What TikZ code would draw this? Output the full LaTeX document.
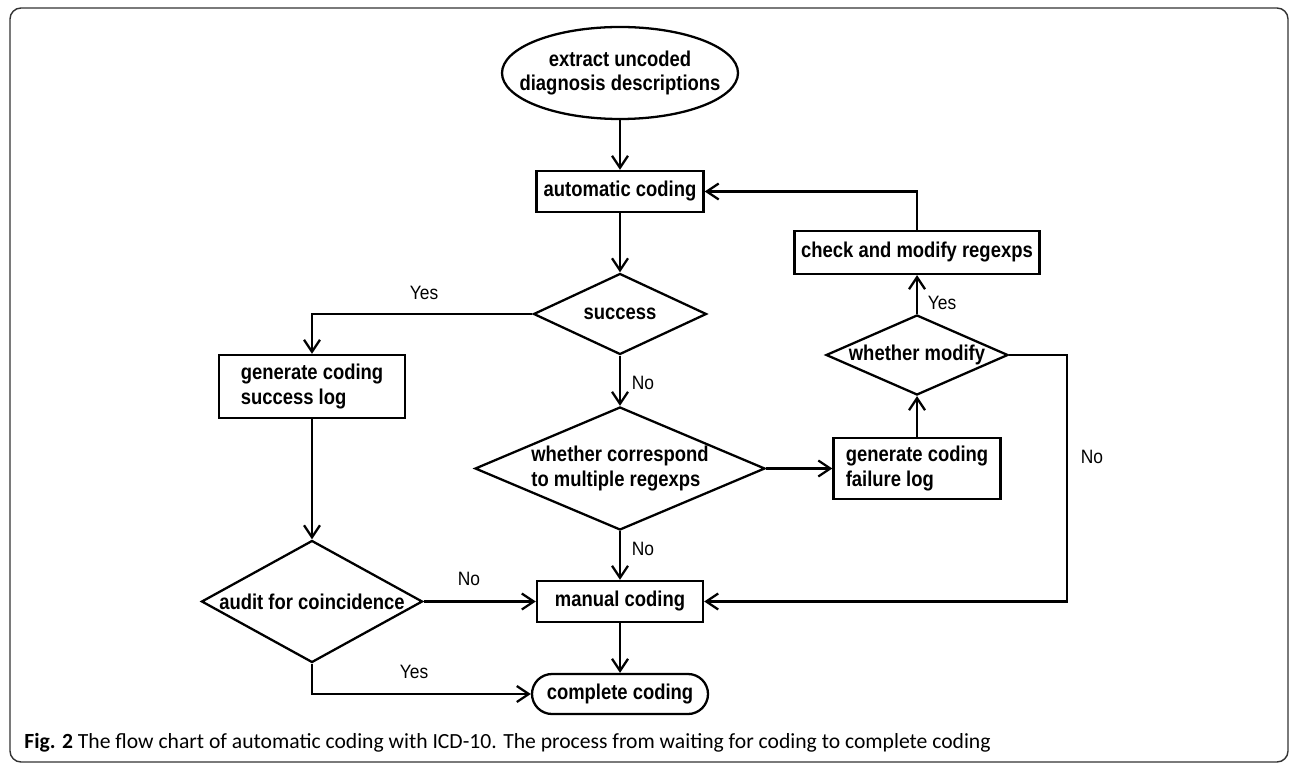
\documentclass[tikz,border=0pt]{standalone}
\usepackage{fontspec}
\setmainfont{Liberation Sans}
\newfontfamily\boxfont{Liberation Sans}[FakeStretch=0.86]
\newfontfamily\labelfont{Liberation Sans}[FakeStretch=0.9]
\newfontfamily\capfont{Carlito}
\usetikzlibrary{shapes.geometric,arrows.meta}

\begin{document}
\begin{tikzpicture}
		\tikzstyle{every node}=[font=\boxfont\fontsize{12.2}{14.2}\selectfont\bfseries]
		\tikzstyle{box}=[draw, rectangle, line width=1.3pt, inner sep=0pt]
		\tikzstyle{choice}=[draw, diamond, line width=1.3pt, inner sep=0pt]
		\tikzstyle{flow}=[line width=1.3pt, -{Straight Barb[length=2.4mm,width=3.2mm]}]
		\tikzstyle{answer}=[font=\labelfont\fontsize{11}{13}\selectfont\mdseries, inner sep=0pt]
		\useasboundingbox (0,0) rectangle (25.84,-15.28);
		\draw [ color={rgb,255:red,50; green,50; blue,50} , line width=0.8pt, rounded corners=0.22cm] (0.2,-0.16) rectangle (25.76,-15.24);
		\node [minimum width=4.72cm, minimum height=1.84cm, inner sep=0pt, align=center] (extract) at (12.4,-1.46) {extract uncoded\\diagnosis descriptions};
		\draw [line width=1.3pt] (extract.center) ellipse (2.36cm and 0.92cm);
		\node [box, minimum width=3.34cm, minimum height=0.82cm] (auto) at (12.4,-3.83) {automatic coding};
		\node [choice, minimum width=3.46cm, minimum height=1.62cm, aspect=2.14] (success) at (12.4,-6.28) {success};
		\node [box, minimum width=3.72cm, minimum height=1.26cm, align=left] (successlog) at (6.24,-7.73) {generate coding\\success log};
		\node [choice, minimum width=5.8cm, minimum height=2.46cm, aspect=2.36, align=left] (correspond) at (12.4,-9.37) {whether correspond\\to multiple regexps};
		\node [box, minimum width=3.34cm, minimum height=1.22cm, align=left] (failurelog) at (18.34,-9.37) {generate coding\\failure log};
		\node [choice, minimum width=3.64cm, minimum height=1.6cm, aspect=2.28] (modify) at (18.34,-7.1) {whether modify};
		\node [box, minimum width=4.9cm, minimum height=0.86cm] (check) at (18.34,-5.05) {check and modify regexps};
		\node [box, minimum width=3.32cm, minimum height=0.82cm] (manual) at (12.4,-12.03) {manual coding};
		\node [choice, minimum width=4.42cm, minimum height=2.44cm, aspect=1.81] (audit) at (6.24,-12.03) {audit for coincidence};
		\node [box, minimum width=3.52cm, minimum height=0.8cm, rounded corners=0.4cm] (complete) at (12.4,-13.88) {complete coding};
		\coordinate (nobend) at (21.34,-7.1);
		\draw [flow] (extract) -- (auto);
		\draw [flow] (auto) -- (success);
		\draw [flow] (success) -| (successlog);
		\draw [flow] (success) -- (correspond);
		\draw [flow] (correspond) -- (failurelog);
		\draw [flow] (failurelog) -- (modify);
		\draw [flow] (modify) -- (check);
		\draw [flow] (check) |- (auto);
		\draw [flow] (modify) -- (nobend) |- (manual);
		\draw [flow] (correspond) -- (manual);
		\draw [flow] (successlog) -- (audit);
		\draw [flow] (audit) -- (manual);
		\draw [flow] (audit) |- (complete);
		\draw [flow] (manual) -- (complete);
		\node [answer] (yes1) at (8.48,-5.86) {Yes};
		\node [answer] (no1) at (12.86,-7.66) {No};
		\node [answer] (yes2) at (18.84,-6.06) {Yes};
		\node [answer] (no2) at (21.84,-9.14) {No};
		\node [answer] (no3) at (12.86,-10.98) {No};
		\node [answer] (no4) at (9.38,-11.58) {No};
		\node [answer] (yes3) at (8.28,-13.44) {Yes};
		\node [font=\capfont\fontsize{12.3}{14}\selectfont, anchor=west, inner sep=0pt] (caption) at (0.48,-14.86) {\textbf{Fig. 2} The flow chart of automatic coding with ICD-10. The process from waiting for coding to complete coding};
		\end{tikzpicture}
\end{document}
